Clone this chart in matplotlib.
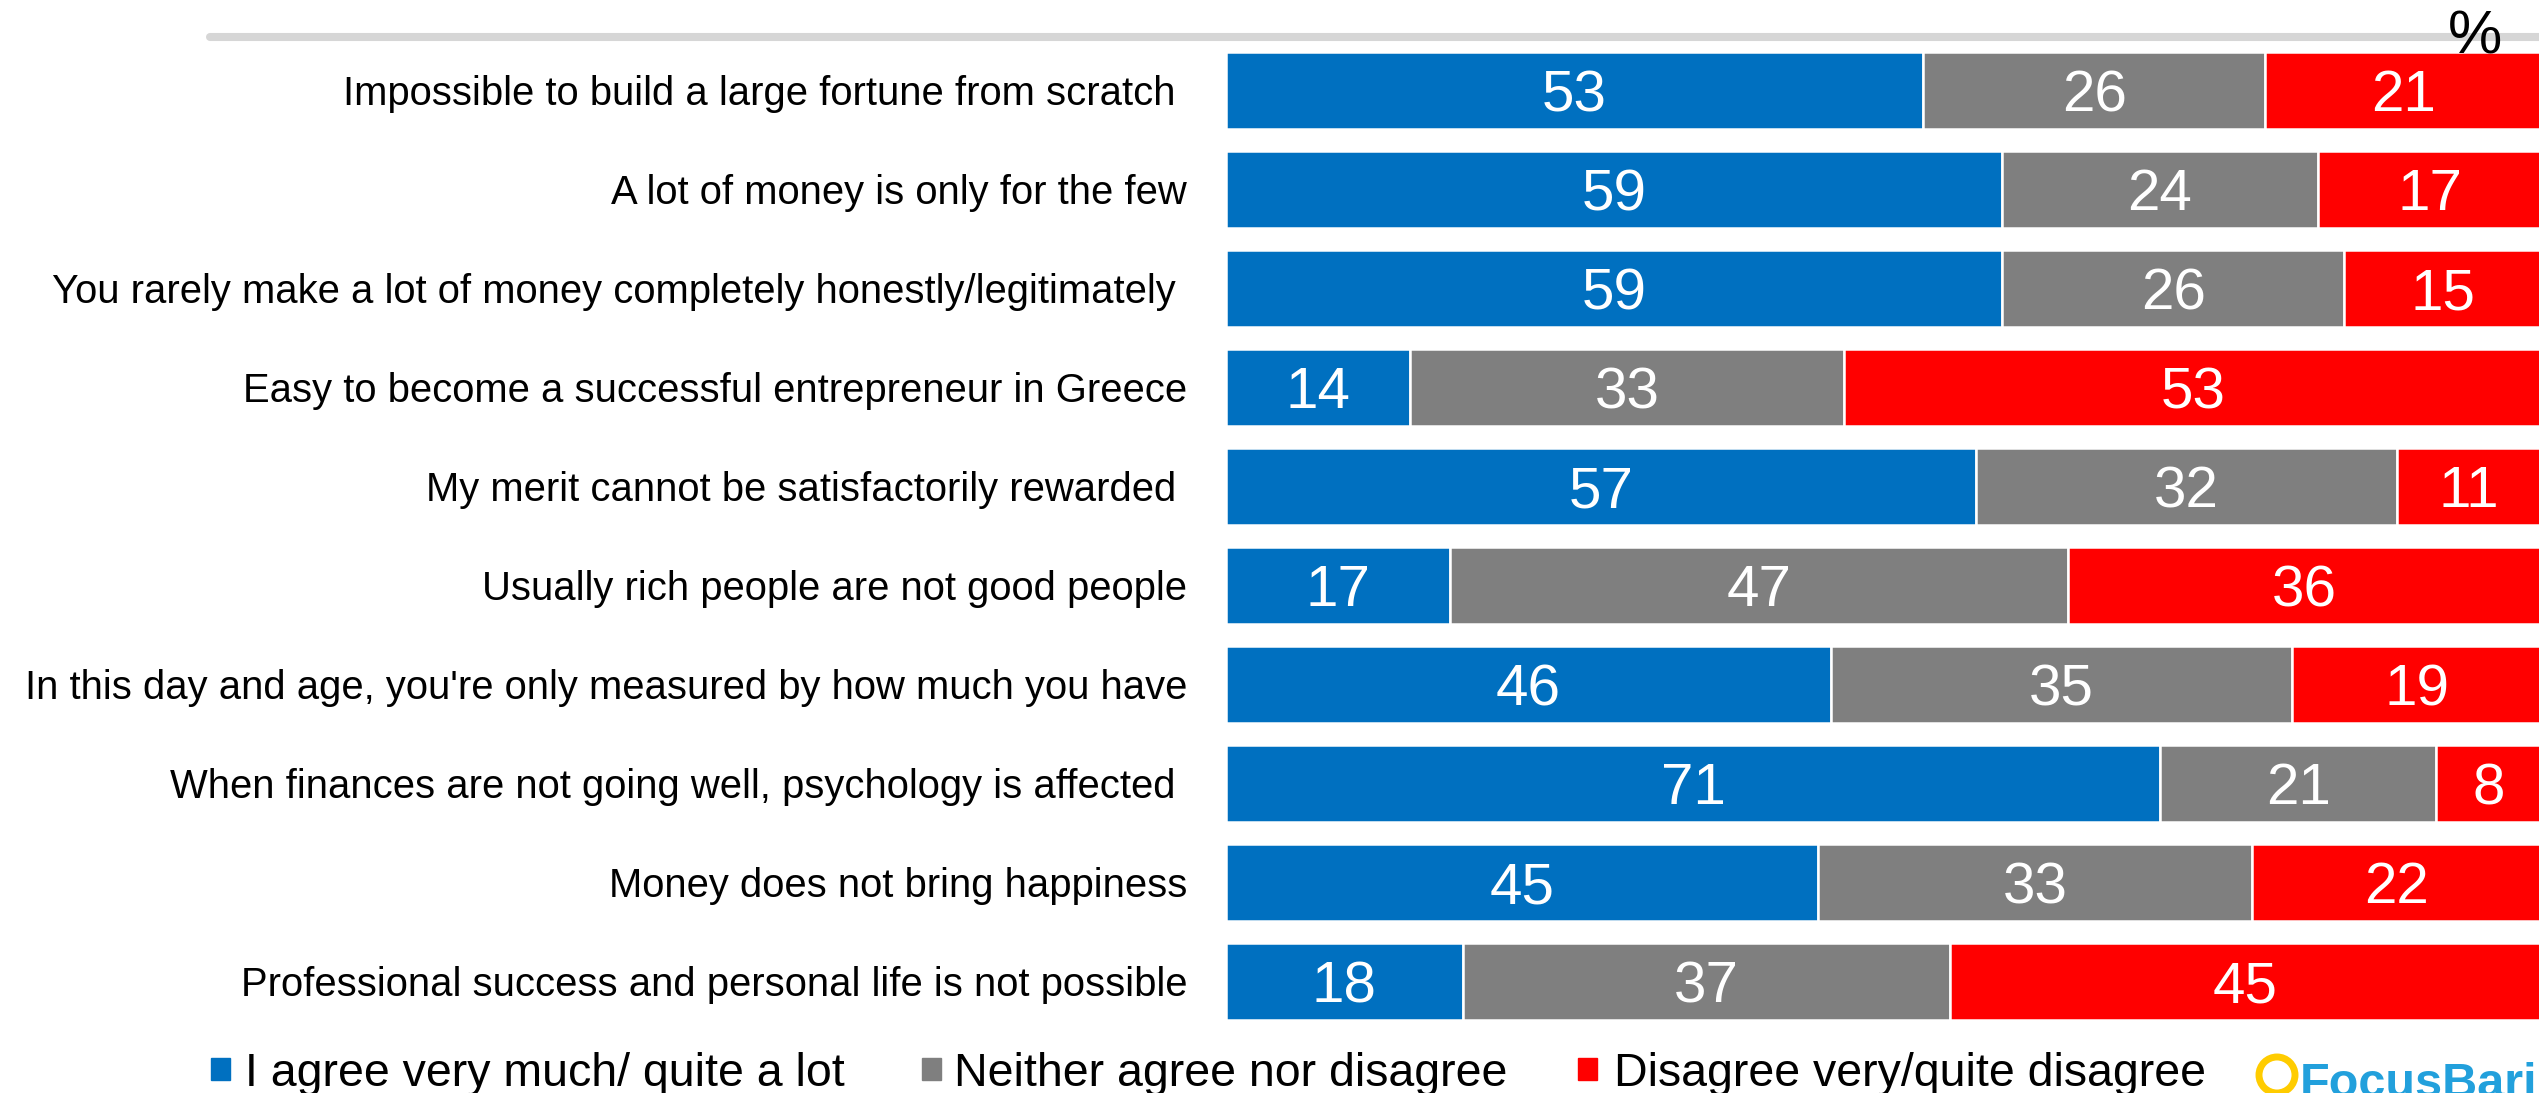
import matplotlib

matplotlib.use("Agg")
import matplotlib.pyplot as plt
import numpy as np
from matplotlib.lines import Line2D
from matplotlib.patches import Circle, Rectangle
from matplotlib.transforms import IdentityTransform

# survey statements, top to bottom
statements = [
    "Impossible to build a large fortune from scratch ",
    "A lot of money is only for the few",
    "You rarely make a lot of money completely honestly/legitimately ",
    "Easy to become a successful entrepreneur in Greece",
    "My merit cannot be satisfactorily rewarded ",
    "Usually rich people are not good people",
    "In this day and age, you're only measured by how much you have",
    "When finances are not going well, psychology is affected ",
    "Money does not bring happiness",
    "Professional success and personal life is not possible",
]
agree = [53, 59, 59, 14, 57, 17, 46, 71, 45, 18]
neutral = [26, 24, 26, 33, 32, 47, 35, 21, 33, 37]
disagree = [21, 17, 15, 53, 11, 36, 19, 8, 22, 45]

series_names = [
    "I agree very much/ quite a lot",
    "Neither agree nor disagree",
    "Disagree very/quite disagree",
]
series_colors = ["#0070c0", "#7f7f7f", "#ff0000"]

FONT = ["Liberation Sans", "DejaVu Sans"]

W, H, DPI = 2539, 1093, 100
fig = plt.figure(figsize=(W / DPI, H / DPI), dpi=DPI)
ax = fig.add_axes([1226 / W, 1 - 1031 / H, 1 - 1226 / W + 0.001, (1031 - 41) / H])

y = np.arange(len(statements))
left = np.zeros(len(statements))
for vals, color in zip([agree, neutral, disagree], series_colors):
    vals = np.asarray(vals, dtype=float)
    ax.barh(y, vals, left=left, height=0.78, color=color,
            edgecolor="white", linewidth=1.8)
    for yi, l, v in zip(y, left, vals):
        ax.text(l + v / 2, yi, f"{v:.0f}", ha="center", va="center_baseline",
                color="white", fontsize=42, family=FONT)
    left += vals

ax.set_xlim(0, 100)
ax.set_ylim(len(statements) - 0.5, -0.5)
ax.set_xticks([])
ax.set_yticks(y)
ax.set_yticklabels(statements, fontsize=28.8, family=FONT)
ax.tick_params(axis="y", length=0, pad=28)
for s in ax.spines.values():
    s.set_visible(False)

# grey rule across the top
fig.add_artist(Line2D([210 / W, 1.0], [1 - 37 / H, 1 - 37 / H], color="#d6d6d6",
                      linewidth=5.8, solid_capstyle="round"))
fig.text(2475 / W, 1 - 31 / H, "%", ha="center", va="center_baseline",
         fontsize=44, family=FONT)

# legend row
leg_sq_x = [211, 922, 1578]
leg_txt_x = [245, 954, 1614]
leg_y = 1069
for name, color, sx, tx in zip(series_names, series_colors, leg_sq_x, leg_txt_x):
    fig.add_artist(Rectangle((sx / W, 1 - (leg_y + 11) / H), 19 / W, 22 / H,
                             color=color, transform=fig.transFigure))
    fig.text(tx / W, 1 - leg_y / H, name, ha="left", va="center_baseline",
             fontsize=33.5, family=FONT)

# logo, cut off at the bottom edge (ring drawn in pixel units so it stays round)
fig.add_artist(Circle((2277, H - 1075), 18, transform=IdentityTransform(),
                      fill=False, edgecolor="#ffcc00", linewidth=5))
fig.text(2300 / W, -0.004, "FocusBari", ha="left", va="baseline", fontsize=35,
         fontweight="bold", color="#22a0dc", family=FONT)

fig.savefig("out.png", dpi=DPI)
